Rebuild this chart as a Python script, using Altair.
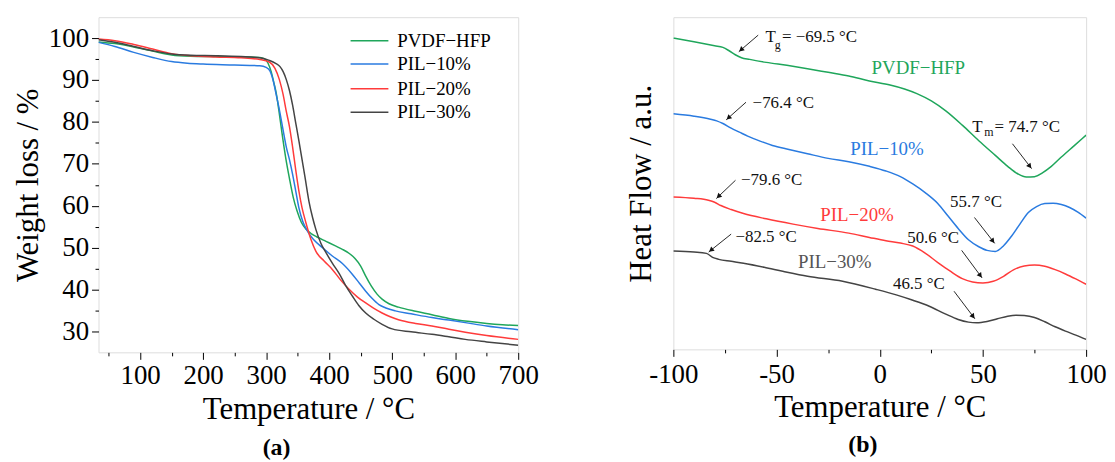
import math
import altair as alt
import pandas as pd

FONT = "Liberation Serif"

# ---------------- shared series info ----------------
series = ["PVDF−HFP", "PIL−10%", "PIL−20%", "PIL−30%"]
colors = ["#1fa65b", "#2a7be0", "#ff3b3b", "#444444"]

# ---------------- panel (a): TGA ----------------
tga_T_pvdf = [34, 60, 90, 120, 150, 180, 220, 260, 290, 297, 303, 308, 312, 316, 320, 325, 331, 337, 343, 349,
              356, 364, 372, 380, 395, 410, 421, 432, 441, 450, 458, 467, 476, 484, 495, 510, 537, 563, 590, 620,
              650, 675, 700]
tga_W_pvdf = [99.1, 98.7, 97.9, 96.9, 96.0, 95.7, 95.6, 95.5, 95.4, 95.1, 94.0, 92.0, 89.5, 86.9, 83.0, 77.5, 71.5,
              66.5, 62.0, 58.8, 56.0, 54.3, 53.3, 52.6, 51.5, 50.4, 49.6, 48.6, 47.4, 45.6, 43.2, 40.8, 38.9, 37.7,
              36.6, 35.8, 34.8, 34.0, 33.1, 32.4, 31.9, 31.6, 31.4]

tga_T_10 = [34, 60, 90, 120, 150, 175, 200, 250, 290, 300, 306, 311, 316, 321, 327, 332, 337, 342, 347, 352, 358,
            366, 376, 390, 405, 421, 437, 448, 458, 468, 479, 490, 505, 530, 563, 590, 616, 650, 700]
tga_W_10 = [99.0, 98.0, 96.6, 95.4, 94.4, 94.0, 93.8, 93.6, 93.4, 93.0, 92.2, 90.0, 86.5, 82.9, 78.0, 74.0, 71.0,
            67.5, 63.5, 59.5, 56.3, 53.8, 51.8, 49.9, 48.0, 46.2, 43.6, 41.5, 39.6, 37.9, 36.4, 35.6, 34.9, 34.2,
            33.3, 32.7, 32.1, 31.3, 30.4]

tga_T_20 = [34, 60, 90, 120, 150, 180, 220, 260, 290, 305, 314, 321, 327, 332, 337, 342, 347, 352, 357, 363, 371,
            379, 392, 405, 418, 432, 445, 458, 471, 484, 497, 510, 537, 563, 590, 616, 650, 700]
tga_W_20 = [99.8, 99.4, 98.5, 97.4, 96.3, 95.8, 95.5, 95.3, 94.9, 94.3, 92.8, 90.1, 86.5, 82.5, 78.9, 74.0, 68.5,
            63.5, 59.5, 56.0, 52.0, 49.1, 46.8, 44.8, 42.3, 40.0, 38.2, 36.8, 35.5, 34.4, 33.5, 32.8, 31.9, 31.3,
            30.5, 29.8, 29.0, 28.1]

tga_T_30 = [34, 60, 90, 120, 150, 180, 220, 260, 290, 305, 315, 322, 327, 332, 337, 342, 347, 352, 357, 362, 368,
            374, 379, 387, 395, 405, 416, 426, 437, 447, 458, 471, 484, 500, 530, 563, 590, 616, 650, 700]
tga_W_30 = [99.6, 99.0, 98.0, 97.0, 96.2, 95.9, 95.8, 95.6, 95.3, 94.7, 94.0, 93.2, 92.0, 90.1, 87.5, 84.0, 79.7,
            75.5, 71.0, 66.5, 61.0, 57.0, 54.3, 51.0, 48.8, 46.3, 43.8, 41.0, 38.4, 36.2, 34.4, 32.9, 31.7, 30.6,
            29.9, 29.3, 28.7, 28.1, 27.5, 26.7]

# tick values of panel a
a_x_major = [100, 200, 300, 400, 500, 600, 700]
a_x_minor = [50, 150, 250, 350, 450, 550, 650]
a_y_major = [30, 40, 50, 60, 70, 80, 90, 100]
a_y_minor = [35, 45, 55, 65, 75, 85, 95]

# legend placement (data units of panel a)
leg_x1, leg_x2, leg_xt = 434, 494, 508
leg_y = [99.4, 93.8, 87.9, 82.3]

# ---------------- panel (b): DSC ----------------
dsc_T_pvdf = [-100, -90, -80, -76, -73, -70, -67, -63, -55, -45, -35, -25, -15, -5, 5, 12, 18, 25, 32, 40, 48, 56,
              62, 67, 71, 75, 79, 83, 88, 94, 100]
dsc_v_pvdf = [937, 926, 914, 909, 899, 887, 878, 873, 864, 855, 845, 834, 823, 808, 796, 784, 770, 748, 718, 675,
              628, 584, 551, 528, 519, 520, 532, 550, 579, 612, 645]

dsc_T_10 = [-100, -90, -82, -79, -76, -72, -68, -64, -58, -52, -44, -35, -25, -15, -5, 3, 10, 16, 22, 28, 33, 38,
            43, 48, 52, 56, 60, 64, 68, 72, 76, 80, 84, 88, 92, 96, 100]
dsc_v_10 = [709, 702, 693, 688, 680, 666, 654, 642, 627, 614, 602, 589, 575, 565, 551, 537, 520, 498, 472, 440,
            402, 364, 330, 309, 298, 295, 312, 342, 378, 412, 430, 439, 440, 436, 427, 413, 395]

dsc_T_20 = [-100, -90, -83, -80, -77, -72, -66, -55, -42, -30, -15, -5, 3, 10, 16, 22, 28, 34, 40, 45, 50, 55, 60,
            65, 70, 75, 80, 85, 90, 95, 100]
dsc_v_20 = [459, 455, 449, 443, 433, 421, 409, 393, 377, 364, 350, 337, 327, 320, 311, 290, 262, 236, 213, 203,
            200, 205, 220, 240, 251, 254, 250, 240, 227, 212, 196]

dsc_T_30 = [-100, -90, -84, -81, -78, -72, -66, -56, -47, -35, -18, -2, 8, 15, 24, 32, 38, 43, 47, 52, 57, 62, 66,
            70, 75, 80, 85, 90, 95, 100]
dsc_v_30 = [296, 293, 289, 277, 271, 265, 259, 247, 235, 220, 205, 181, 164, 150, 130, 106, 90, 82, 80, 84, 92,
            100, 103, 102, 96, 83, 68, 55, 43, 30]

b_x_major = [-100, -50, 0, 50, 100]
b_x_minor = [-75, -25, 25, 75]

# annotations of panel b: text, T, v, font size
ann_text = ["T", "g", "= −69.5 °C", "−76.4 °C", "T", "m", "= 74.7 °C", "55.7 °C", "−79.6 °C", "50.6 °C",
            "−82.5 °C", "46.5 °C"]
ann_T = [-55.4, -50.9, -47.4, -61.6, 44.8, 50.6, 55.6, 34.1, -67.2, 13.3, -69.9, 6.4]
ann_v = [940, 915, 940, 741, 669, 654, 669, 444, 509, 336, 337, 198]
ann_size = [17, 12, 17, 17, 17, 12, 17, 17, 17, 17, 17, 17]

lab_T = [18.7, 3.5, -11.0, -21.8]
lab_v = [848, 604, 405, 262]
lab_colors = ["#1fa65b", "#2a7be0", "#ff3b3b", "#555555"]

# arrows: start (T1, v1) -> tip (T2, v2)
arr_T1 = [-58.9, -64.8, 64.3, 45.9, -69.9, 39.7, -72.0, 36.0]
arr_v1 = [946, 744, 619, 397, 509, 298, 347, 175]
arr_T2 = [-68.3, -74.4, 73.6, 55.7, -79.2, 49.6, -82.9, 46.1]
arr_v2 = [896, 691, 544, 319, 454, 215, 293, 92]

# ---------------- sizes ----------------
WA, HA = 422, 337
WB, HB = 415, 334

# ---------------- build tables ----------------
def long_table(Ts, Ys, yname):
    rows = []
    for i, (tt, yy) in enumerate(zip(Ts, Ys)):
        for t, y in zip(tt, yy):
            rows.append({"series": series[i], "order": i, "T": t, yname: y})
    return pd.DataFrame(rows)


df_a = long_table([tga_T_pvdf, tga_T_10, tga_T_20, tga_T_30], [tga_W_pvdf, tga_W_10, tga_W_20, tga_W_30], "W")
df_b = long_table([dsc_T_pvdf, dsc_T_10, dsc_T_20, dsc_T_30], [dsc_v_pvdf, dsc_v_10, dsc_v_20, dsc_v_30], "v")

color_scale = alt.Scale(domain=series, range=colors)

axis_common = dict(
    domain=False, grid=False, labelFont=FONT, titleFont=FONT, labelColor="#000", titleColor="#000",
    tickColor="#000", tickWidth=1, labelFontSize=27, titleFontSize=31, titleFontWeight="normal",
    labelOverlap=False, labelFlush=False, labelBound=False,
)
minor_common = dict(domain=False, grid=False, labels=False, title=None, tickColor="#000", tickWidth=1,
                    tickSize=3.5)

sx_a = alt.Scale(domain=[34, 700], nice=False, zero=False)
sy_a = alt.Scale(domain=[25, 105], nice=False, zero=False)

xa = alt.X("T:Q", scale=sx_a,
           axis=alt.Axis(values=a_x_major, tickSize=7, title="Temperature / °C", labelPadding=3,
                         titlePadding=7, orient="bottom", **axis_common))
ya = alt.Y("W:Q", scale=sy_a,
           axis=alt.Axis(values=a_y_major, tickSize=7, title="Weight loss / %", labelPadding=3,
                         titlePadding=4, orient="left", **axis_common))

lines_a = alt.Chart(df_a).mark_line(strokeWidth=1.5, interpolate="monotone", clip=True).encode(
    x=xa, y=ya,
    color=alt.Color("series:N", scale=color_scale, legend=None),
    order=alt.Order("order:Q"),
)

minor_a = alt.Chart(df_a).mark_point(opacity=0, size=1).encode(
    x=alt.X("T:Q", scale=sx_a, axis=alt.Axis(values=a_x_minor, orient="bottom", **minor_common)),
    y=alt.Y("W:Q", scale=sy_a, axis=alt.Axis(values=a_y_minor, orient="left", **minor_common)),
)

leg_df = pd.DataFrame({"series": series, "x1": [leg_x1] * 4, "x2": [leg_x2] * 4, "xt": [leg_xt] * 4, "y": leg_y})
leg_rules = alt.Chart(leg_df).mark_rule(strokeWidth=1.5).encode(
    x=alt.X("x1:Q", scale=sx_a, axis=None), x2="x2:Q", y=alt.Y("y:Q", scale=sy_a, axis=None),
    color=alt.Color("series:N", scale=color_scale, legend=None),
)
leg_text = alt.Chart(leg_df).mark_text(align="left", baseline="middle", font=FONT, fontSize=19, color="#000").encode(
    x=alt.X("xt:Q", scale=sx_a, axis=None), y=alt.Y("y:Q", scale=sy_a, axis=None), text="series:N",
)

panel_a = alt.layer(lines_a, minor_a, leg_rules, leg_text).resolve_axis(
    x="independent", y="independent"
).properties(
    width=WA, height=HA,
    title=alt.TitleParams("(a)", orient="bottom", font=FONT, fontSize=24, fontWeight="bold", color="#000",
                          offset=11, dx=-32),
)

# ---------------- panel b ----------------
sx_b = alt.Scale(domain=[-100, 100], nice=False, zero=False)
sy_b = alt.Scale(domain=[0, 1000], nice=False, zero=False)

xb = alt.X("T:Q", scale=sx_b,
           axis=alt.Axis(values=b_x_major, labelExpr="'' + datum.value", tickSize=7, title="Temperature / °C",
                         labelPadding=5, titlePadding=5, orient="bottom", **axis_common))
yb = alt.Y("v:Q", scale=sy_b,
           axis=alt.Axis(labels=False, ticks=False, title="Heat Flow / a.u.", titlePadding=16, **axis_common))

lines_b = alt.Chart(df_b).mark_line(strokeWidth=1.5, interpolate="monotone", clip=True).encode(
    x=xb, y=yb,
    color=alt.Color("series:N", scale=color_scale, legend=None),
    order=alt.Order("order:Q"),
)

minor_b = alt.Chart(df_b).mark_point(opacity=0, size=1).encode(
    x=alt.X("T:Q", scale=sx_b, axis=alt.Axis(values=b_x_minor, orient="bottom", **minor_common)),
    y=alt.Y("v:Q", scale=sy_b, axis=None),
)

ann_df = pd.DataFrame({"text": ann_text, "T": ann_T, "v": ann_v, "size": ann_size})
ann = alt.Chart(ann_df).mark_text(align="left", baseline="middle", font=FONT, color="#111").encode(
    x=alt.X("T:Q", scale=sx_b, axis=None), y=alt.Y("v:Q", scale=sy_b, axis=None), text="text:N",
    size=alt.Size("size:Q", scale=None),
)

lab_df = pd.DataFrame({"text": series, "T": lab_T, "v": lab_v, "c": lab_colors})
labs = alt.Chart(lab_df).mark_text(align="center", baseline="middle", font=FONT, fontSize=19).encode(
    x=alt.X("T:Q", scale=sx_b, axis=None), y=alt.Y("v:Q", scale=sy_b, axis=None), text="text:N",
    color=alt.Color("c:N", scale=None),
)

# arrows (pixel-aware angle so the heads point along the shafts)
pxT = WB / 200.0
pxV = HB / 1000.0
heads = []
for t1, v1, t2, v2 in zip(arr_T1, arr_v1, arr_T2, arr_v2):
    dx = (t2 - t1) * pxT
    dy = -(v2 - v1) * pxV
    ang = math.degrees(math.atan2(dx, -dy)) % 360
    L = math.hypot(dx, dy)
    back = 3.0
    heads.append({"T": t2 - (dx / L) * back / pxT, "v": v2 + (dy / L) * back / pxV, "ang": ang})
arr_df = pd.DataFrame({"T1": arr_T1, "v1": arr_v1, "T2": arr_T2, "v2": arr_v2})
head_df = pd.DataFrame(heads)

shafts = alt.Chart(arr_df).mark_rule(strokeWidth=0.9, color="#111").encode(
    x=alt.X("T1:Q", scale=sx_b, axis=None), y=alt.Y("v1:Q", scale=sy_b, axis=None), x2="T2:Q", y2="v2:Q",
)
arrowheads = alt.Chart(head_df).mark_point(shape="triangle-up", filled=True, size=32, color="#111", opacity=1).encode(
    x=alt.X("T:Q", scale=sx_b, axis=None), y=alt.Y("v:Q", scale=sy_b, axis=None),
    angle=alt.Angle("ang:Q", scale=None),
)

panel_b = alt.layer(lines_b, minor_b, shafts, arrowheads, ann, labs).resolve_axis(
    x="independent", y="independent"
).properties(
    width=WB, height=HB,
    title=alt.TitleParams("(b)", orient="bottom", font=FONT, fontSize=24, fontWeight="bold", color="#000",
                          offset=11, dx=-17),
)

chart = alt.hconcat(panel_a, panel_b, spacing=156, bounds="flush").properties(
    padding={"left": 4, "top": 7, "right": 0, "bottom": 0},
).configure_view(stroke="#222", strokeWidth=1.3).configure(font=FONT)

chart.save("out.html", embed_options={"renderer": "svg", "actions": False})
